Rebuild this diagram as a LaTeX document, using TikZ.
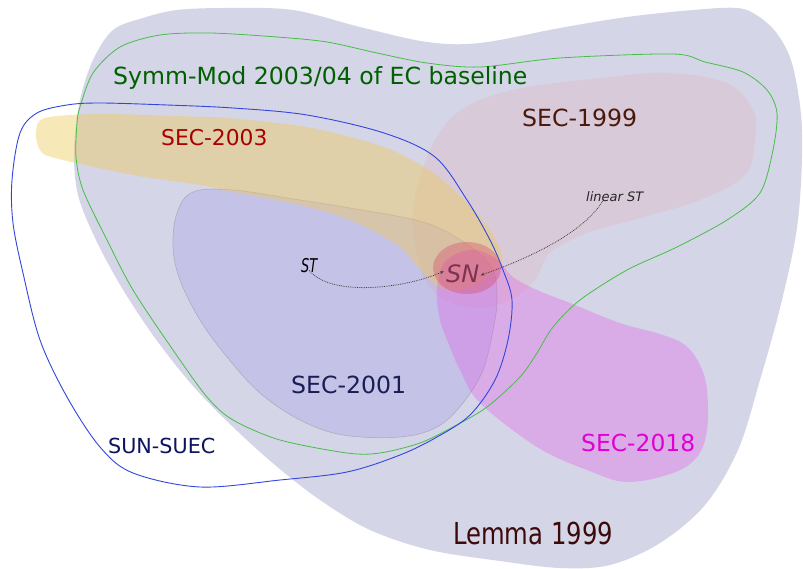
\documentclass[tikz,border=0pt]{standalone}
\usepackage{fontspec}
\setmainfont{DejaVu Sans}
\usetikzlibrary{arrows.meta,calc}
\definecolor{lemmaC}{RGB}{213,213,232}
\definecolor{secNNC}{RGB}{223,190,200}
\definecolor{secOThreeC}{RGB}{237,202,90}
\definecolor{secOOneC}{RGB}{150,140,232}
\definecolor{secEightC}{RGB}{230,80,230}
\definecolor{snC}{RGB}{215,80,110}
\definecolor{greenL}{RGB}{70,190,70}
\definecolor{blueL}{RGB}{50,70,220}
\definecolor{txGreen}{RGB}{0,95,0}
\definecolor{txRed}{RGB}{170,0,0}
\definecolor{txBrown}{RGB}{75,25,10}
\definecolor{txNavy}{RGB}{25,30,85}
\definecolor{txMag}{RGB}{225,0,210}
\definecolor{txBlue}{RGB}{10,20,95}
\definecolor{txLemma}{RGB}{60,10,10}
\definecolor{txSN}{RGB}{110,40,70}
\begin{document}
\begin{tikzpicture}[x=1pt,y=-1pt,
  lbl/.style={anchor=base west, inner sep=0pt},
  conn/.style={densely dotted, line width=0.8pt, draw=black!75, -{Stealth[length=4pt,width=3pt]}}]
\useasboundingbox (0,0) rectangle (803,569);
\fill[white] (0,0) rectangle (803,569);
% Lemma 1999 region
\fill[lemmaC] plot[smooth cycle, tension=0.55] coordinates {
 (80,100) (74,150) (78,195) (96,240) (122,288) (155,338) (193,386) (232,426)
 (275,465) (320,500) (370,530) (430,550) (500,561) (560,568) (610,565)
 (660,543) (705,505) (738,450) (760,380) (782,300) (798,220) (802,130)
 (793,67) (778,35) (758,16) (737,8) (693,10) (627,17) (560,28) (480,43)
 (427,42) (360,27) (293,10) (227,8) (177,10) (143,18) (113,30) (93,60)};
% SEC-1999
\fill[secNNC, fill opacity=0.45] plot[smooth cycle, tension=0.6] coordinates {
 (461,110) (512,90) (600,78) (667,73) (727,83) (753,110) (755,140) (745,175)
 (700,200) (633,220) (587,233) (550,253) (535,280) (510,300) (480,308)
 (445,300) (425,280) (415,243) (413,210) (420,177) (435,140)};
% SEC-2001
\path[fill=secOOneC, fill opacity=0.25, draw=gray, draw opacity=0.4, line width=0.6pt]
 plot[smooth cycle, tension=0.6] coordinates {
 (193,192) (233,190) (300,200) (350,208) (423,222) (465,243) (492,268)
 (497,300) (493,330) (483,370) (463,403) (437,427) (400,437) (343,435)
 (300,420) (260,393) (227,357) (200,320) (180,280) (173,247) (177,213)};
% SEC-2003
\fill[secOThreeC, fill opacity=0.43] plot[smooth cycle, tension=0.5] coordinates {
 (45,118) (36,132) (40,150) (55,158) (133,175) (200,185) (233,192) (300,205)
 (350,220) (397,245) (425,275) (445,290) (475,285) (502,262) (492,233)
 (467,203) (432,172) (384,147) (307,127) (227,118) (205,117) (102,114)};
% SEC-2018
\fill[secEightC, fill opacity=0.3] plot[smooth cycle, tension=0.6] coordinates {
 (445,262) (470,250) (495,258) (513,277) (537,290) (570,303) (620,323)
 (660,334) (685,345) (700,365) (707,390) (707,430) (697,457) (673,473)
 (627,482) (587,470) (537,447) (480,403) (460,370) (450,347) (440,320) (437,290)};
% SN
\fill[snC, fill opacity=0.4] (467,268) ellipse [x radius=34, y radius=26];
% Symm-Mod outline
\draw[greenL, line width=0.8pt] plot[smooth cycle, tension=0.5] coordinates {
 (80,107) (93,73) (120,47) (160,35) (210,33) (277,37) (327,42) (377,53)
 (427,63) (480,67) (560,58) (673,54) (705,62) (743,72) (767,90) (777,113)
 (773,150) (760,193) (727,220) (677,247) (627,270) (580,300) (553,327)
 (537,353) (520,377) (487,407) (453,427) (420,443) (380,453) (347,453)
 (280,440) (233,420) (207,397) (173,350) (133,290) (107,240) (83,190)
 (76,157) (77,123)};
% SUN-SUEC outline
\draw[blueL, line width=0.9pt] plot[smooth cycle, tension=0.55] coordinates {
 (13,223) (12,180) (20,133) (37,113) (67,105) (100,103) (167,105) (233,108)
 (307,115) (384,133) (435,157) (467,200) (490,240) (503,270) (512,300)
 (508,340) (495,380) (470,415) (437,437) (400,455) (347,472) (280,480)
 (200,487) (133,473) (100,447) (67,397) (40,340) (23,273)};
% labels
\node[lbl, text=txGreen, font=\fontsize{23.6}{26}\selectfont] (symm) at (113,85) {Symm-Mod 2003/04 of EC baseline};
\node[lbl, text=txRed, font=\fontsize{21.8}{24}\selectfont] (s03) at (161,146) {SEC-2003};
\node[lbl, text=txBrown, font=\fontsize{23.6}{26}\selectfont] (s99) at (522,127) {SEC-1999};
\node[lbl, text=txNavy, font=\fontsize{23.6}{26}\selectfont] (s01) at (291,393) {SEC-2001};
\node[lbl, text=txMag, font=\fontsize{23.4}{26}\selectfont] (s18) at (581,451) {SEC-2018};
\node[lbl, text=txBlue, font=\fontsize{20.7}{23}\selectfont] (sun) at (108,453) {SUN-SUEC};
\node[lbl, text=txLemma] (lemma) at (453,544) {\scalebox{1}[1.245]{\fontsize{24.3}{26}\selectfont Lemma 1999}};
\node[lbl, text=txSN, text opacity=0.85, font=\fontsize{24}{26}\selectfont\itshape] (SN) at (446,283) {SN};
\node[lbl, font=\itshape] (ST) at (301,273) {\scalebox{0.68}[1]{\fontsize{19}{21}\selectfont ST}};
\node[lbl, text=black!85, font=\fontsize{13}{15}\selectfont\itshape] (linST) at (586,202) {linear ST};
% connectors
\draw[conn] ($(ST.south)+(0,-3)$) .. controls (330,296) and (400,290) .. ($(SN.west)+(-2,-3)$);
\draw[conn] ($(linST.south)+(-11,-3)$) .. controls (585,232) and (530,258) .. ($(SN.east)+(1,1)$);
\end{tikzpicture}
\end{document}
